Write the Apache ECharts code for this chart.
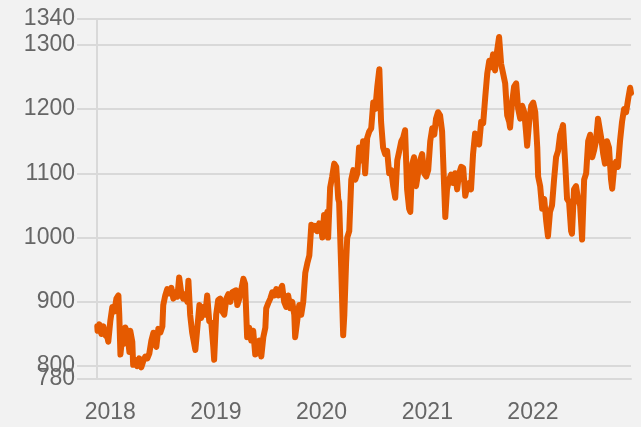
<!DOCTYPE html>
<html>
<head>
<meta charset="utf-8">
<script src="https://cdn.jsdelivr.net/npm/echarts@6/dist/echarts.min.js"></script>
<style>
	html, body { margin: 0; padding: 0; background: #f2f2f2; }
	#chart { width: 641px; height: 427px; }
</style>
</head>
<body>
<div id="chart"></div>
<script>
// days counted from 2018-01-01
var startDate = Date.UTC(2018, 0, 1);
var dayOffsets = [-45, -44, -38, -31, -24, -17, -10, -7, 0, 7, 14, 21, 28, 31, 35, 41, 48, 52, 59, 66,
	69, 76, 79, 86, 93, 100, 107, 114, 121, 128, 135, 142, 149, 155, 159, 166, 173, 180, 183, 190,
	197, 204, 211, 218, 225, 232, 238, 245, 252, 259, 266, 270, 276, 283, 290, 294, 301, 308, 314, 321,
	328, 335, 342, 349, 356, 359, 366, 373, 380, 387, 394, 401, 408, 415, 422, 428, 435, 439, 446, 453,
	460, 466, 470, 473, 480, 487, 494, 501, 508, 515, 522, 529, 536, 539, 546, 553, 560, 567, 574, 581,
	587, 594, 601, 608, 615, 622, 629, 636, 639, 646, 653, 660, 667, 674, 681, 688, 695, 701, 708, 715,
	722, 729, 733, 739, 746, 750, 753, 760, 767, 774, 781, 788, 791, 798, 805, 809, 815, 819, 826, 833,
	840, 847, 854, 860, 867, 874, 881, 888, 895, 902, 909, 916, 923, 930, 936, 943, 950, 957, 964, 971,
	978, 985, 992, 999, 1006, 1012, 1019, 1026, 1033, 1037, 1044, 1050, 1057, 1064, 1071, 1078, 1085, 1092, 1099, 1106,
	1113, 1120, 1126, 1133, 1140, 1147, 1154, 1158, 1164, 1171, 1178, 1185, 1192, 1199, 1206, 1213, 1220, 1227, 1234, 1241,
	1247, 1254, 1261, 1268, 1275, 1282, 1289, 1296, 1303, 1310, 1317, 1323, 1330, 1337, 1344, 1351, 1358, 1365, 1372, 1379,
	1382, 1389, 1396, 1403, 1410, 1417, 1424, 1431, 1437, 1441, 1448, 1455, 1462, 1469, 1476, 1479, 1486, 1493, 1500, 1507,
	1513, 1520, 1527, 1534, 1541, 1548, 1555, 1562, 1565, 1572, 1579, 1586, 1593, 1596, 1603, 1610, 1617, 1624, 1631, 1638,
	1645, 1652, 1659, 1666, 1672, 1679, 1686, 1690, 1697, 1704, 1710, 1717, 1724, 1731, 1735, 1742, 1748, 1755, 1762, 1769,
	1776, 1783, 1790, 1797, 1800];
var prices = [862, 855, 865, 850, 862, 848, 845, 838, 870, 892, 885, 905, 910, 880, 818, 845, 835, 860, 852, 822,
	855, 838, 802, 810, 800, 812, 798, 808, 815, 812, 820, 840, 852, 835, 830, 858, 852, 862, 895, 910,
	920, 913, 922, 905, 915, 908, 938, 915, 905, 912, 900, 933, 880, 852, 835, 825, 860, 895, 875, 892,
	880, 910, 870, 868, 830, 810, 880, 903, 905, 885, 880, 905, 912, 900, 915, 913, 918, 895, 905, 920,
	936, 928, 880, 845, 860, 840, 855, 818, 820, 840, 815, 845, 860, 890, 898, 905, 915, 910, 920, 910,
	918, 925, 900, 892, 910, 890, 900, 880, 845, 870, 895, 880, 900, 945, 960, 972, 1020, 1012, 1018, 1010,
	1022, 1015, 1000, 1035, 1025, 1040, 1000, 1078, 1095, 1115, 1110, 1060, 1055, 955, 848, 880, 960, 1000, 1010, 1090,
	1105, 1090, 1100, 1140, 1120, 1150, 1100, 1155, 1165, 1170, 1210, 1200, 1235, 1262, 1180, 1140, 1130, 1135, 1100, 1105,
	1080, 1062, 1120, 1135, 1150, 1155, 1167, 1075, 1045, 1040, 1115, 1125, 1080, 1100, 1120, 1130, 1100, 1095, 1105, 1150,
	1170, 1160, 1185, 1195, 1190, 1165, 1080, 1032, 1075, 1090, 1098, 1085, 1100, 1075, 1100, 1110, 1108, 1065, 1080, 1085,
	1075, 1130, 1162, 1150, 1145, 1180, 1178, 1218, 1255, 1275, 1265, 1285, 1260, 1290, 1312, 1270, 1255, 1240, 1190, 1180,
	1171, 1210, 1235, 1240, 1200, 1185, 1205, 1195, 1165, 1143, 1180, 1205, 1210, 1195, 1140, 1095, 1080, 1045, 1060, 1025,
	1002, 1040, 1050, 1090, 1125, 1135, 1160, 1170, 1175, 1120, 1060, 1055, 1010, 1006, 1075, 1080, 1060, 1050, 997, 1090,
	1100, 1150, 1160, 1125, 1135, 1150, 1185, 1187, 1155, 1130, 1115, 1150, 1140, 1090, 1076, 1110, 1118, 1110, 1150, 1180,
	1200, 1195, 1215, 1233, 1225];
var yearTicks = [2018, 2019, 2020, 2021, 2022];
var valueTicks = [780, 800, 900, 1000, 1100, 1200, 1300, 1340];

var DAY = 86400000;
var seriesData = [];
for (var i = 0; i < prices.length; i++) {
	seriesData.push([dayOffsets[i], prices[i]]);
}
var yearDays = yearTicks.map(function(y) { return Math.round((Date.UTC(y, 0, 1) - startDate) / DAY); });
var yMin = valueTicks[0], yMax = valueTicks[valueTicks.length - 1];

var labelStyle = {
	formatter : function(v) { return String(v); },
	color : '#666666',
	fontSize : 23,
	fontFamily : 'Liberation Sans',
	margin : 22
};

var chart = echarts.init(document.getElementById('chart'));
chart.setOption({
	backgroundColor : '#f2f2f2',
	animation : false,
	grid : {
		left : 97,
		right : 10,
		top : 19,
		bottom : 48
	},
	xAxis : {
		type : 'value',
		min : -46,
		max : 1800,
		axisLine : { show : true, onZero : false, lineStyle : { color : '#d9d9d9', width : 2 } },
		axisTick : { show : false, customValues : yearDays },
		splitLine : { show : false },
		axisLabel : {
			customValues : yearDays,
			formatter : function(v) { return String(new Date(startDate + v * DAY).getUTCFullYear()); },
			color : '#666666',
			fontSize : 23,
			fontFamily : 'Liberation Sans',
			margin : 22
		}
	},
	yAxis : [{
		type : 'value',
		min : yMin,
		max : yMax,
		axisLine : { show : true, onZero : false, lineStyle : { color : '#d9d9d9', width : 2 } },
		axisTick : {
			show : true,
			length : 20,
			customValues : valueTicks,
			lineStyle : { color : '#d9d9d9', width : 2 }
		},
		splitLine : { show : true, lineStyle : { color : '#d9d9d9', width : 2 } },
		axisLabel : echarts.util.extend({ customValues : valueTicks.slice(1) }, labelStyle)
	}, {
		// the min label sits over 800, so it gets its own axis to keep both visible
		type : 'value',
		position : 'left',
		min : yMin,
		max : yMax,
		axisLine : { show : false },
		axisTick : { show : false },
		splitLine : { show : false },
		axisLabel : echarts.util.extend({ customValues : [yMin] }, labelStyle)
	}],
	series : [{
		type : 'line',
		data : seriesData,
		showSymbol : false,
		lineStyle : { color : '#e55a00', width : 6, cap : 'round', join : 'round' },
		itemStyle : { color : '#e55a00' }
	}]
});
</script>
</body>
</html>
